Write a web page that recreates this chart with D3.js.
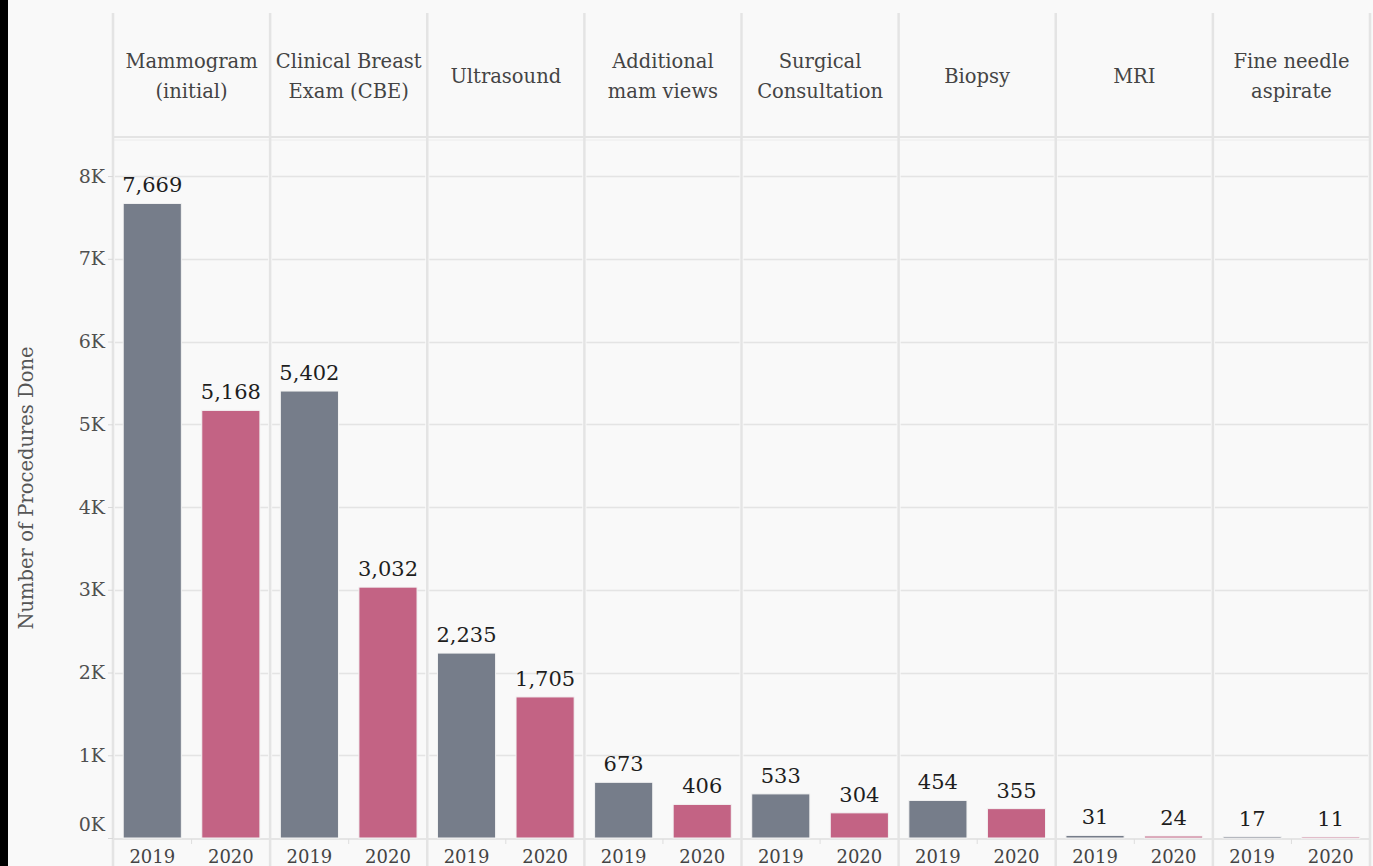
<!DOCTYPE html>
<html>
<head>
<meta charset="utf-8">
<script src="https://cdn.jsdelivr.net/npm/d3@7"></script>
<style>
  html, body { margin: 0; padding: 0; background: #f9f9f9; }
  svg { display: block; }
  text { font-family: "DejaVu Serif", serif; }
</style>
</head>
<body>
<svg id="chart" width="1373" height="866"></svg>
<script>
// data
const categories = ['Mammogram\n(initial)', 'Clinical Breast\nExam (CBE)', 'Ultrasound', 'Additional\nmam views',
  'Surgical\nConsultation', 'Biopsy', 'MRI', 'Fine needle\naspirate'];
const years = ['2019', '2020'];
const values2019 = [7669, 5402, 2235, 673, 533, 454, 31, 17];
const values2020 = [5168, 3032, 1705, 406, 304, 355, 24, 11];
const yTicks = [0, 1000, 2000, 3000, 4000, 5000, 6000, 7000, 8000];

const colors = { '2019': '#767d8a', '2020': '#c36384' };
const grid = '#e4e4e4';

const W = 1373, H = 866;
const left = 113, right = 1370, headTop = 13, headBottom = 138, base = 838;

const svg = d3.select('#chart');

// black strip at the left edge
svg.append('rect').attr('x', 0).attr('y', 0).attr('width', 8).attr('height', H).attr('fill', '#000');

const x0 = d3.scaleBand().domain(d3.range(categories.length)).range([left, right]);
const x1 = d3.scaleBand().domain(years).range([0, x0.bandwidth()]).paddingInner(0.26).paddingOuter(0.13);
const y = d3.scaleLinear().domain([0, 8460]).range([base, headBottom]);

const rows = categories.map((c, i) => ({ cat: c, i, vals: [
  { year: '2019', value: values2019[i] },
  { year: '2020', value: values2020[i] }
] }));

// horizontal gridlines, per panel
const gridG = svg.append('g');
rows.forEach(r => {
  gridG.selectAll(null)
    .data(yTicks.slice(1))
    .join('line')
    .attr('x1', x0(r.i) + 2).attr('x2', x0(r.i) + x0.bandwidth() - 2)
    .attr('y1', d => Math.round(y(d)) + 0.5).attr('y2', d => Math.round(y(d)) + 0.5)
    .attr('stroke', grid).attr('stroke-width', 1.5);
});

// header bottom border
svg.append('line').attr('x1', left).attr('x2', right).attr('y1', headBottom - 1).attr('y2', headBottom - 1)
  .attr('stroke', grid).attr('stroke-width', 2);
svg.append('line').attr('x1', left).attr('x2', right).attr('y1', headBottom + 2).attr('y2', headBottom + 2)
  .attr('stroke', '#ececec').attr('stroke-width', 1);

// baseline
svg.append('line').attr('x1', left).attr('x2', right).attr('y1', base + 1).attr('y2', base + 1)
  .attr('stroke', '#dedede').attr('stroke-width', 1.5);

// vertical panel dividers
svg.append('g').selectAll('line')
  .data(d3.range(categories.length + 1))
  .join('line')
  .attr('x1', d => d < categories.length ? x0(d) : right)
  .attr('x2', d => d < categories.length ? x0(d) : right)
  .attr('y1', headTop).attr('y2', H)
  .attr('stroke', grid).attr('stroke-width', 2.5);

// headers
const head = svg.append('g').selectAll('text')
  .data(rows)
  .join('text')
  .attr('text-anchor', 'middle')
  .attr('fill', '#444')
  .attr('font-size', 19.5)
  .attr('transform', d => `translate(${x0(d.i) + x0.bandwidth() / 2},${(headTop + headBottom) / 2})`);
head.each(function(d) {
  const lines = d.cat.split('\n');
  d3.select(this).selectAll('tspan')
    .data(lines)
    .join('tspan')
    .attr('x', 0)
    .attr('y', (l, k) => (k - (lines.length - 1) / 2) * 30 + 7)
    .text(l => l);
});

// bars
const panel = svg.append('g').selectAll('g')
  .data(rows)
  .join('g')
  .attr('transform', d => `translate(${x0(d.i)},0)`);

panel.selectAll('rect')
  .data(d => d.vals)
  .join('rect')
  .attr('x', d => x1(d.year))
  .attr('width', x1.bandwidth())
  .attr('y', d => y(d.value))
  .attr('height', d => Math.max(1.5, base - y(d.value)))
  .attr('fill', d => colors[d.year])
  .attr('stroke', '#f3f3f3')
  .attr('stroke-width', 1);

panel.selectAll('text.val')
  .data(d => d.vals)
  .join('text')
  .attr('class', 'val')
  .attr('x', d => x1(d.year) + x1.bandwidth() / 2)
  .attr('y', d => y(d.value) - 11)
  .attr('text-anchor', 'middle')
  .attr('fill', '#1e1e1e')
  .attr('font-size', 21)
  .text(d => d3.format(',')(d.value));

// year labels along the bottom
panel.selectAll('text.yr')
  .data(d => d.vals)
  .join('text')
  .attr('class', 'yr')
  .attr('x', d => x1(d.year) + x1.bandwidth() / 2)
  .attr('y', 863)
  .attr('text-anchor', 'middle')
  .attr('fill', '#444')
  .attr('font-size', 18)
  .text(d => d.year);

panel.append('line')
  .attr('x1', x0.bandwidth() / 2).attr('x2', x0.bandwidth() / 2)
  .attr('y1', base + 1).attr('y2', base + 6)
  .attr('stroke', '#dedede');

// y axis
const yAxis = svg.append('g')
  .attr('transform', `translate(${left},0)`)
  .call(d3.axisLeft(y).tickValues(yTicks).tickFormat(d => d / 1000 + 'K').tickSize(5).tickPadding(3));
yAxis.select('.domain').remove();
yAxis.selectAll('.tick line').attr('stroke', '#d8d8d8');
yAxis.selectAll('.tick text')
  .attr('fill', '#505050')
  .attr('font-size', 19)
  .attr('font-family', '"DejaVu Serif", serif')
  .attr('dy', (d) => d === 0 ? '-0.4em' : '0.32em');

// axis title
svg.append('text')
  .attr('transform', 'translate(33,488) rotate(-90)')
  .attr('text-anchor', 'middle')
  .attr('fill', '#555')
  .attr('font-size', 19.5)
  .text('Number of Procedures Done');
</script>
</body>
</html>
